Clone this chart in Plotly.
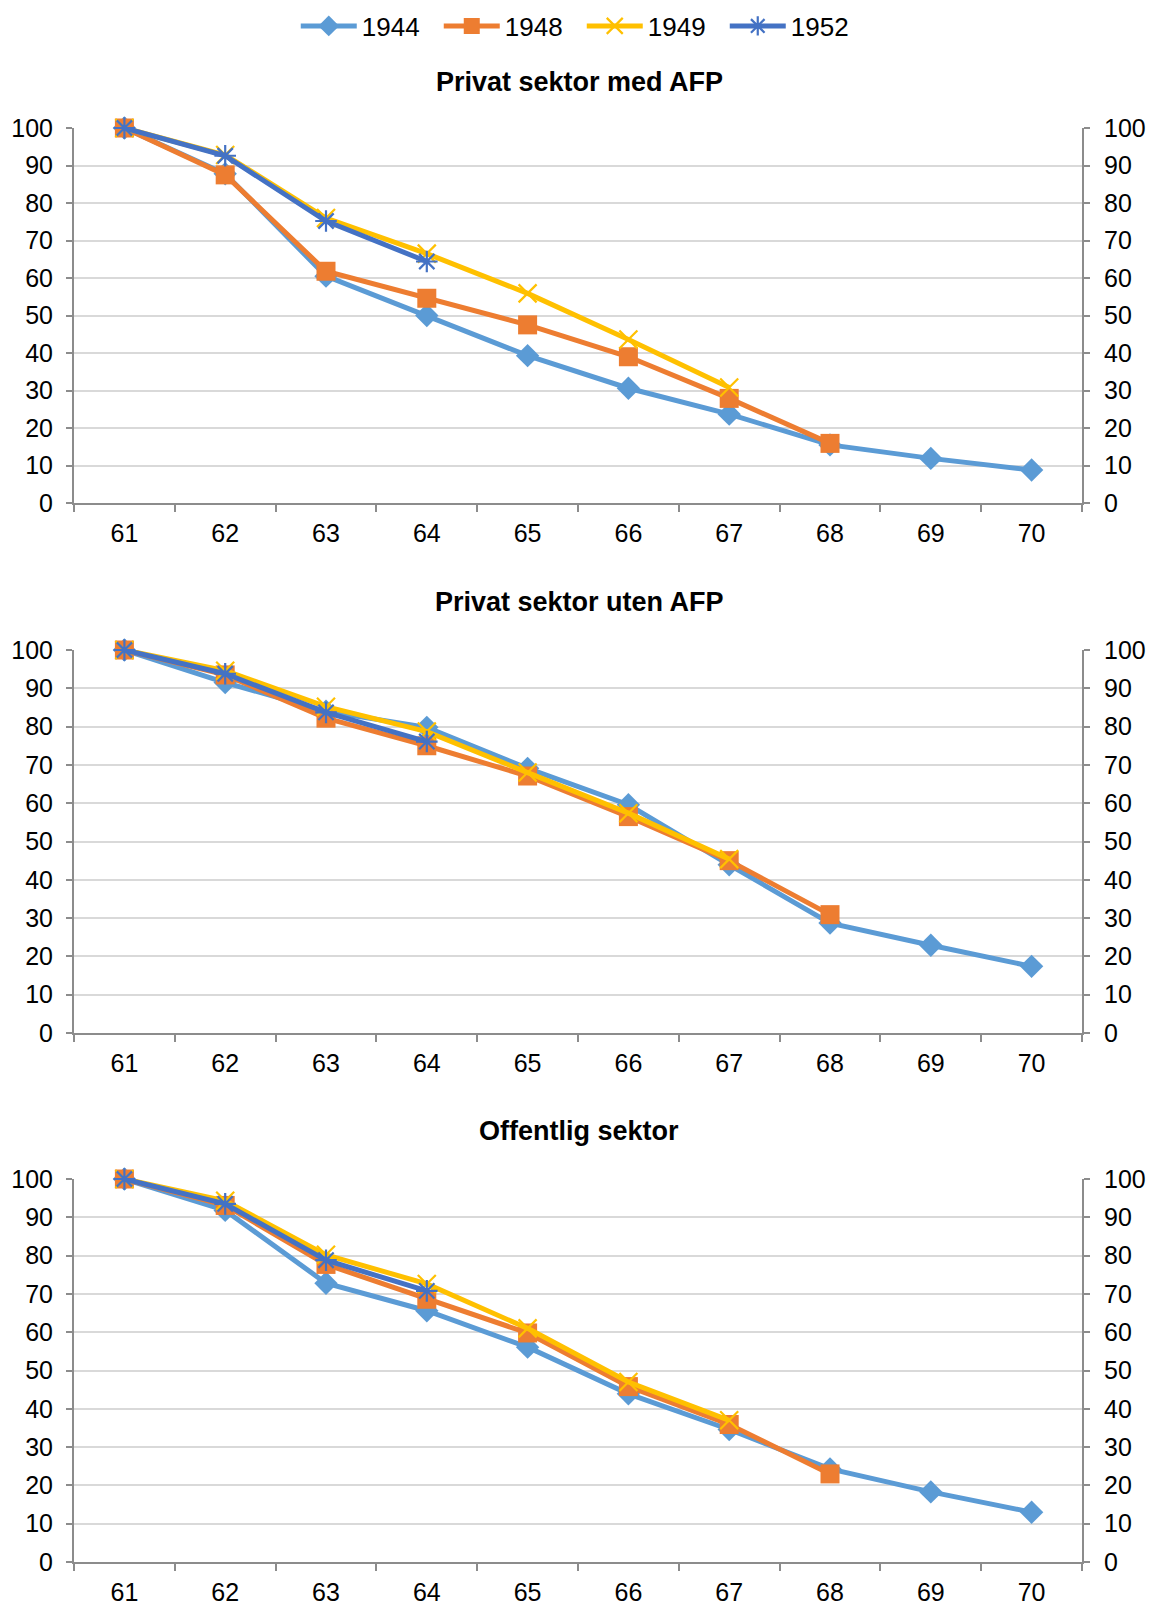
import plotly.graph_objects as go

ages = ["61", "62", "63", "64", "65", "66", "67", "68", "69", "70"]
cohorts = ["1944", "1948", "1949", "1952"]
titles = ["Privat sektor med AFP", "Privat sektor uten AFP", "Offentlig sektor"]
y_ticks = [0, 10, 20, 30, 40, 50, 60, 70, 80, 90, 100]

p1_1944 = [100, 87.8, 60.5, 50.0, 39.3, 30.6, 23.7, 15.5, 11.9, 8.8]
p1_1948 = [100, 87.5, 61.8, 54.6, 47.5, 39.0, 27.9, 15.9, None, None]
p1_1949 = [100, 92.8, 76.0, 66.5, 55.9, 43.6, 30.8, None, None, None]
p1_1952 = [100, 92.6, 75.2, 64.4, None, None, None, None, None, None]

p2_1944 = [100, 91.5, 84.0, 79.8, 69.1, 59.6, 43.9, 28.7, 22.9, 17.4]
p2_1948 = [100, 93.5, 82.2, 75.0, 67.1, 56.5, 45.0, 30.9, None, None]
p2_1949 = [100, 94.6, 85.2, 78.7, 68.0, 57.4, 45.4, None, None, None]
p2_1952 = [100, 93.8, 83.7, 76.1, None, None, None, None, None, None]

p3_1944 = [100, 91.8, 72.8, 65.6, 56.1, 43.9, 34.6, 24.3, 18.3, 13.0]
p3_1948 = [100, 93.1, 77.7, 68.6, 59.8, 45.8, 35.9, 23.0, None, None]
p3_1949 = [100, 94.3, 80.2, 72.6, 61.0, 47.0, 37.0, None, None, None]
p3_1952 = [100, 93.5, 78.8, 70.8, None, None, None, None, None, None]

panels = [
    [p1_1944, p1_1948, p1_1949, p1_1952],
    [p2_1944, p2_1948, p2_1949, p2_1952],
    [p3_1944, p3_1948, p3_1949, p3_1952],
]

colors = ["#5B9BD5", "#ED7D31", "#FFC000", "#4472C4"]
markers = [
    dict(symbol="diamond", size=18),
    dict(symbol="square", size=19),
    dict(symbol="x-thin-open", size=18, line=dict(width=2.2)),
    dict(symbol="asterisk-open", size=18, line=dict(width=2.2)),
]

H = 1605.0
W = 1152.0
ydoms = [(503, 128), (1033, 650), (1562, 1179)]
title_y = [82, 602, 1131]
xdom = [74 / W, 1082 / W]

FONT = "Liberation Sans, Arial, sans-serif"
grid_c = "#D9D9D9"
axis_c = "#8C8C8C"
TICK_SIZE = 25

fig = go.Figure()

for p, series in enumerate(panels):
    xa = "x" if p == 0 else f"x{p + 1}"
    yl = "y" if p == 0 else f"y{2 * p + 1}"
    yr = f"y{2 * p + 2}"
    for i, vals in enumerate(series):
        m = dict(markers[i])
        m["color"] = colors[i]
        if "line" in m:
            m["line"] = dict(width=m["line"]["width"], color=colors[i])
        fig.add_trace(go.Scatter(
            x=ages, y=vals, mode="lines+markers", name=cohorts[i],
            line=dict(color=colors[i], width=5),
            marker=m, xaxis=xa, yaxis=yl, showlegend=(p == 0),
            cliponaxis=False, connectgaps=False,
        ))
    fig.add_trace(go.Scatter(x=ages, y=[None] * len(ages), xaxis=xa, yaxis=yr,
                             showlegend=False, hoverinfo="skip", mode="lines"))

    bottom, top = ydoms[p]
    dom = [1 - bottom / H, 1 - top / H]
    xkey = "xaxis" if p == 0 else f"xaxis{p + 1}"
    ylkey = "yaxis" if p == 0 else f"yaxis{2 * p + 1}"
    yrkey = f"yaxis{2 * p + 2}"
    fig.layout[xkey] = dict(
        domain=xdom, anchor=yl, type="category", categoryorder="array",
        categoryarray=ages, range=[-0.5, 9.5], showgrid=False,
        showline=True, linecolor=axis_c, linewidth=2,
        ticks="outside", tickson="boundaries", ticklen=7, tickcolor=axis_c,
        tickwidth=2, tickfont=dict(family=FONT, size=TICK_SIZE, color="#000000"),
        ticklabelstandoff=7, fixedrange=True, automargin=False,
    )
    fig.layout[ylkey] = dict(
        domain=dom, anchor=xa, range=[0, 100], tickvals=y_ticks,
        showgrid=True, gridcolor=grid_c, gridwidth=1.6, zeroline=False,
        showline=True, linecolor=axis_c, linewidth=2,
        ticks="outside", ticklen=6, tickcolor=axis_c, tickwidth=2,
        tickfont=dict(family=FONT, size=TICK_SIZE, color="#000000"),
        ticklabelstandoff=8, fixedrange=True, automargin=False,
    )
    fig.layout[yrkey] = dict(
        overlaying=yl, side="right", anchor=xa, range=[0, 100], tickvals=y_ticks,
        showgrid=False, zeroline=False, showline=True, linecolor=axis_c,
        linewidth=2, ticks="outside", ticklen=6, tickcolor=axis_c, tickwidth=2,
        tickfont=dict(family=FONT, size=TICK_SIZE, color="#000000"),
        ticklabelstandoff=9, fixedrange=True, automargin=False,
    )
    fig.add_annotation(
        text=f"<b>{titles[p]}</b>", xref="paper", yref="paper",
        x=0.503, y=1 - title_y[p] / H, xanchor="center", yanchor="middle",
        showarrow=False, font=dict(family=FONT, size=27, color="#000000"),
    )

fig.update_layout(
    width=1152, height=1605,
    margin=dict(l=0, r=0, t=0, b=0, autoexpand=False),
    paper_bgcolor="white", plot_bgcolor="white",
    showlegend=True,
    legend=dict(
        orientation="h", x=0.505, y=1 - 26 / H, xanchor="center", yanchor="middle",
        font=dict(family=FONT, size=26, color="#000000"),
        itemwidth=56, entrywidth=72, entrywidthmode="pixels",
        tracegroupgap=0, bgcolor="rgba(0,0,0,0)",
    ),
)

fig.write_html("out.html")
